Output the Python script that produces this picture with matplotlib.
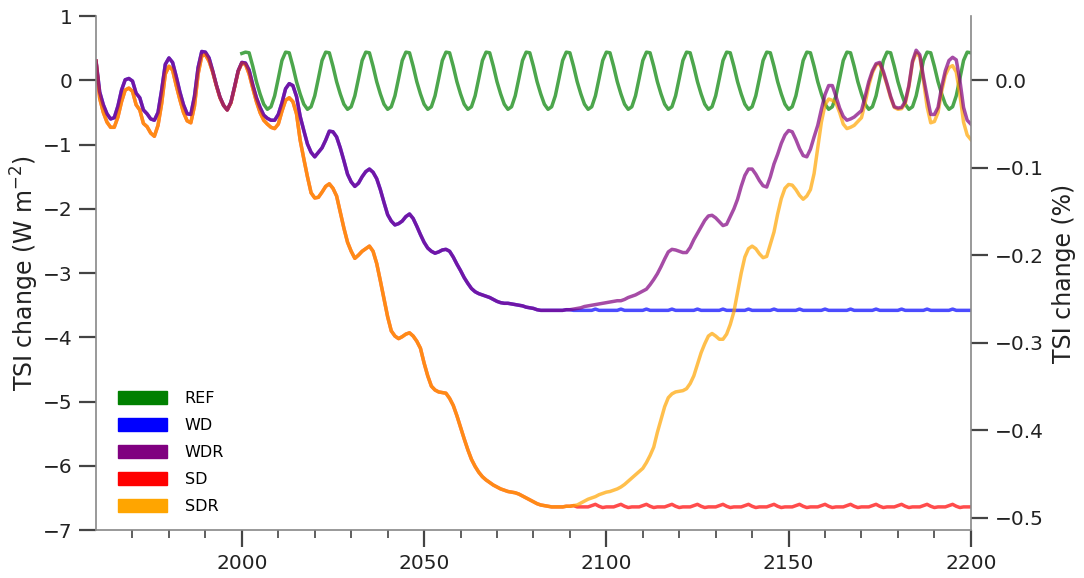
import numpy as np
import matplotlib
matplotlib.use("Agg")
import matplotlib.pyplot as plt
import matplotlib.patches as mpatches

# yearly values, 1960-2200 (W m-2)
years = np.arange(1960, 2201)
ref_years = np.arange(2000, 2201)

# REF, 2000-2200
ref = [0.42,
       0.44, 0.43, 0.22, -0.02, -0.21, -0.37, -0.45, -0.41, -0.24, 0.03, 0.31,
       0.44, 0.43, 0.22, -0.02, -0.21, -0.37, -0.45, -0.41, -0.24, 0.03, 0.31,
       0.44, 0.43, 0.22, -0.02, -0.21, -0.37, -0.45, -0.41, -0.24, 0.03, 0.31,
       0.44, 0.43, 0.22, -0.02, -0.21, -0.37, -0.45, -0.41, -0.24, 0.03, 0.31,
       0.44, 0.43, 0.22, -0.02, -0.21, -0.37, -0.45, -0.41, -0.24, 0.03, 0.31,
       0.44, 0.43, 0.22, -0.02, -0.21, -0.37, -0.45, -0.41, -0.24, 0.03, 0.31,
       0.44, 0.43, 0.22, -0.02, -0.21, -0.37, -0.45, -0.41, -0.24, 0.03, 0.31,
       0.44, 0.43, 0.22, -0.02, -0.21, -0.37, -0.45, -0.41, -0.24, 0.03, 0.31,
       0.44, 0.43, 0.22, -0.02, -0.21, -0.37, -0.45, -0.41, -0.24, 0.03, 0.31,
       0.44, 0.43, 0.22, -0.02, -0.21, -0.37, -0.45, -0.41, -0.24, 0.03, 0.31,
       0.44, 0.43, 0.22, -0.02, -0.21, -0.37, -0.45, -0.41, -0.24, 0.03, 0.31,
       0.44, 0.43, 0.22, -0.02, -0.21, -0.37, -0.45, -0.41, -0.24, 0.03, 0.31,
       0.44, 0.43, 0.22, -0.02, -0.21, -0.37, -0.45, -0.41, -0.24, 0.03, 0.31,
       0.44, 0.43, 0.22, -0.02, -0.21, -0.37, -0.45, -0.41, -0.24, 0.03, 0.31,
       0.44, 0.43, 0.22, -0.02, -0.21, -0.37, -0.45, -0.41, -0.24, 0.03, 0.31,
       0.44, 0.43, 0.22, -0.02, -0.21, -0.37, -0.45, -0.41, -0.24, 0.03, 0.31,
       0.44, 0.43, 0.22, -0.02, -0.21, -0.37, -0.45, -0.41, -0.24, 0.03, 0.31,
       0.44, 0.43, 0.22, -0.02, -0.21, -0.37, -0.45, -0.41, -0.24, 0.03, 0.31,
       0.44, 0.43]

# WDR, 1960-2200
wdr = [0.30, -0.18, -0.38, -0.52, -0.60, -0.58, -0.40, -0.15, 0.01, 0.03,      # 1960
       -0.01, -0.20, -0.27, -0.46, -0.52, -0.60, -0.62, -0.50, -0.15, 0.25,    # 1970
       0.35, 0.28, 0.06, -0.18, -0.38, -0.52, -0.53, -0.25, 0.20, 0.45,        # 1980
       0.44, 0.35, 0.15, -0.07, -0.26, -0.39, -0.46, -0.34, -0.10, 0.15,       # 1990
       0.28, 0.27, 0.16, -0.07, -0.27, -0.42, -0.54, -0.59, -0.62, -0.62,     # 2000
       -0.53, -0.35, -0.13, -0.05, -0.08, -0.25, -0.56, -0.78, -0.99, -1.12,  # 2010
       -1.19, -1.12, -1.05, -0.93, -0.79, -0.80, -0.88, -1.05, -1.25, -1.46,  # 2020
       -1.58, -1.65, -1.60, -1.50, -1.42, -1.38, -1.43, -1.53, -1.70, -1.90,  # 2030
       -2.09, -2.19, -2.25, -2.23, -2.19, -2.12, -2.08, -2.15, -2.27, -2.40,  # 2040
       -2.52, -2.61, -2.66, -2.69, -2.67, -2.64, -2.63, -2.66, -2.75, -2.86,  # 2050
       -2.96, -3.07, -3.16, -3.24, -3.29, -3.32, -3.34, -3.36, -3.38, -3.41,  # 2060
       -3.44, -3.46, -3.47, -3.47, -3.48, -3.49, -3.50, -3.51, -3.53, -3.54,  # 2070
       -3.55, -3.57, -3.58, -3.58, -3.58, -3.58, -3.58, -3.58, -3.58, -3.57,  # 2080
       -3.57, -3.56, -3.55, -3.54, -3.52, -3.51, -3.50, -3.49, -3.48, -3.47,  # 2090
       -3.46, -3.45, -3.44, -3.43, -3.43, -3.41, -3.38, -3.36, -3.34, -3.31,  # 2100
       -3.28, -3.25, -3.18, -3.10, -3.01, -2.90, -2.78, -2.67, -2.63, -2.64,  # 2110
       -2.66, -2.68, -2.68, -2.60, -2.48, -2.38, -2.28, -2.18, -2.11, -2.10,  # 2120
       -2.14, -2.20, -2.26, -2.24, -2.12, -2.00, -1.85, -1.65, -1.48, -1.38,  # 2130
       -1.38, -1.46, -1.56, -1.64, -1.66, -1.50, -1.30, -1.15, -0.98, -0.85,  # 2140
       -0.78, -0.80, -0.92, -1.06, -1.17, -1.19, -1.07, -0.88, -0.70, -0.45,  # 2150
       -0.22, -0.08, -0.08, -0.25, -0.43, -0.56, -0.62, -0.60, -0.57, -0.52,  # 2160
       -0.47, -0.25, -0.02, 0.15, 0.26, 0.28, 0.14, -0.05, -0.25, -0.41,      # 2170
       -0.43, -0.42, -0.33, -0.08, 0.30, 0.47, 0.40, 0.05, -0.25, -0.53,      # 2180
       -0.53, -0.42, -0.10, 0.15, 0.31, 0.36, 0.32, 0.00, -0.42, -0.62,       # 2190
       -0.68]                                                                  # 2200

# SDR, 1960-2200
sdr = [0.30, -0.28, -0.50, -0.65, -0.73, -0.73, -0.57, -0.33, -0.15, -0.12,   # 1960
       -0.17, -0.38, -0.46, -0.67, -0.72, -0.82, -0.87, -0.70, -0.36, 0.10,   # 1970
       0.22, 0.16, -0.08, -0.30, -0.50, -0.63, -0.66, -0.40, 0.10, 0.38,      # 1980
       0.40, 0.30, 0.13, -0.08, -0.27, -0.39, -0.46, -0.35, -0.11, 0.14,      # 1990
       0.27, 0.25, 0.10, -0.12, -0.33, -0.50, -0.62, -0.68, -0.73, -0.75,     # 2000
       -0.68, -0.48, -0.31, -0.27, -0.33, -0.52, -0.93, -1.22, -1.50, -1.75,  # 2010
       -1.83, -1.82, -1.74, -1.65, -1.61, -1.68, -1.80, -2.05, -2.30, -2.52,  # 2020
       -2.66, -2.77, -2.72, -2.66, -2.62, -2.58, -2.66, -2.85, -3.12, -3.40,  # 2030
       -3.68, -3.90, -3.98, -4.02, -3.99, -3.95, -3.93, -3.98, -4.06, -4.17,  # 2040
       -4.40, -4.60, -4.76, -4.82, -4.85, -4.86, -4.87, -4.95, -5.06, -5.22,  # 2050
       -5.40, -5.58, -5.75, -5.90, -6.01, -6.10, -6.17, -6.22, -6.26, -6.30,  # 2060
       -6.33, -6.36, -6.38, -6.40, -6.41, -6.42, -6.44, -6.47, -6.50, -6.53,  # 2070
       -6.56, -6.59, -6.61, -6.62, -6.63, -6.64, -6.64, -6.64, -6.64, -6.63,  # 2080
       -6.63, -6.62, -6.61, -6.58, -6.55, -6.52, -6.50, -6.48, -6.45, -6.43,  # 2090
       -6.41, -6.40, -6.38, -6.36, -6.33, -6.29, -6.24, -6.19, -6.14, -6.09,  # 2100
       -6.04, -5.95, -5.84, -5.71, -5.48, -5.28, -5.08, -4.94, -4.88, -4.85,  # 2110
       -4.84, -4.83, -4.80, -4.72, -4.60, -4.42, -4.24, -4.10, -3.98, -3.94,  # 2120
       -3.98, -4.03, -4.03, -3.95, -3.80, -3.60, -3.30, -3.00, -2.75, -2.62,  # 2130
       -2.58, -2.62, -2.70, -2.76, -2.74, -2.55, -2.36, -2.08, -1.84, -1.68,  # 2140
       -1.62, -1.63, -1.70, -1.79, -1.85, -1.80, -1.70, -1.45, -1.05, -0.65,  # 2150
       -0.38, -0.29, -0.31, -0.35, -0.50, -0.68, -0.75, -0.73, -0.70, -0.64,  # 2160
       -0.58, -0.35, -0.08, 0.12, 0.24, 0.26, 0.11, -0.07, -0.27, -0.42,      # 2170
       -0.45, -0.44, -0.36, -0.10, 0.28, 0.43, 0.37, 0.00, -0.41, -0.66,      # 2180
       -0.64, -0.50, -0.17, 0.08, 0.20, 0.23, 0.13, -0.22, -0.65, -0.85,      # 2190
       -0.92]                                                                  # 2200

# WD after it leaves WDR, 2091-2200
wd_tail = [-3.58, -3.58, -3.58, -3.58, -3.58, -3.58, -3.56, -3.58, -3.58, -3.58,
           -3.58, -3.58, -3.58, -3.56, -3.58, -3.58, -3.58, -3.58, -3.58, -3.58,
           -3.56, -3.58, -3.58, -3.58, -3.58, -3.58, -3.58, -3.56, -3.58, -3.58,
           -3.58, -3.58, -3.58, -3.58, -3.56, -3.58, -3.58, -3.58, -3.58, -3.58,
           -3.58, -3.56, -3.58, -3.58, -3.58, -3.58, -3.58, -3.58, -3.56, -3.58,
           -3.58, -3.58, -3.58, -3.58, -3.58, -3.56, -3.58, -3.58, -3.58, -3.58,
           -3.58, -3.58, -3.56, -3.58, -3.58, -3.58, -3.58, -3.58, -3.58, -3.56,
           -3.58, -3.58, -3.58, -3.58, -3.58, -3.58, -3.56, -3.58, -3.58, -3.58,
           -3.58, -3.58, -3.58, -3.56, -3.58, -3.58, -3.58, -3.58, -3.58, -3.58,
           -3.56, -3.58, -3.58, -3.58, -3.58, -3.58, -3.58, -3.56, -3.58, -3.58,
           -3.58, -3.58, -3.58, -3.58, -3.56, -3.58, -3.58, -3.58, -3.58, -3.58]

# SD after it leaves SDR, 2092-2200
sd_tail = [-6.64, -6.64, -6.64, -6.64, -6.62, -6.60, -6.63, -6.65, -6.64,
           -6.64, -6.64, -6.62, -6.60, -6.63, -6.65, -6.64, -6.64, -6.64, -6.62,
           -6.60, -6.63, -6.65, -6.64, -6.64, -6.64, -6.62, -6.60, -6.63, -6.65,
           -6.64, -6.64, -6.64, -6.62, -6.60, -6.63, -6.65, -6.64, -6.64, -6.64,
           -6.62, -6.60, -6.63, -6.65, -6.64, -6.64, -6.64, -6.62, -6.60, -6.63,
           -6.65, -6.64, -6.64, -6.64, -6.62, -6.60, -6.63, -6.65, -6.64, -6.64,
           -6.64, -6.62, -6.60, -6.63, -6.65, -6.64, -6.64, -6.64, -6.62, -6.60,
           -6.63, -6.65, -6.64, -6.64, -6.64, -6.62, -6.60, -6.63, -6.65, -6.64,
           -6.64, -6.64, -6.62, -6.60, -6.63, -6.65, -6.64, -6.64, -6.64, -6.62,
           -6.60, -6.63, -6.65, -6.64, -6.64, -6.64, -6.62, -6.60, -6.63, -6.65,
           -6.64, -6.64, -6.64, -6.62, -6.60, -6.63, -6.65, -6.64, -6.64, -6.64]

wd = wdr[:131] + wd_tail
sd = sdr[:132] + sd_tail

names = ["REF", "WD", "WDR", "SD", "SDR"]
colors = ["green", "blue", "purple", "red", "orange"]

tsi = 1362.0  # W m-2, for the % axis

fig = plt.figure(figsize=(10.84, 5.78), dpi=100)
ax = fig.add_axes([0.0886, 0.083, 0.807, 0.889])

lw = 2.5
a = 0.7
ax.plot(ref_years, ref, color="green", lw=lw, alpha=a)
ax.plot(years, wd, color="blue", lw=lw, alpha=a)
ax.plot(years, sd, color="red", lw=lw, alpha=a)
ax.plot(years, sdr, color="orange", lw=lw, alpha=a)
ax.plot(years, wdr, color="purple", lw=lw, alpha=a)

ax.set_xlim(1960, 2200)
ax.set_ylim(-7, 1)
ax.set_xticks([2000, 2050, 2100, 2150, 2200])
ax.set_xticks(np.arange(1970, 2200, 10), minor=True)
ax.set_yticks(np.arange(-7, 2, 1))

spine_c = "#888888"
for s in ["left", "bottom"]:
    ax.spines[s].set_color(spine_c)
    ax.spines[s].set_linewidth(1.2)
ax.spines["top"].set_visible(False)
ax.spines["right"].set_visible(False)
ax.tick_params(which="major", length=12, width=1.6, color="#444444",
               labelsize=14.5, labelcolor="#222222", pad=5)
ax.tick_params(which="minor", length=6, width=1.2, color="#444444")
ax.set_ylabel("TSI change (W m$^{-2}$)", fontsize=17, color="#222222", labelpad=1)

ax2 = ax.twinx()
ax2.set_ylim(-7 / tsi * 100, 1 / tsi * 100)
ax2.set_yticks([0.0, -0.1, -0.2, -0.3, -0.4, -0.5])
ax2.set_yticklabels(["0.0", "\u22120.1", "\u22120.2", "\u22120.3", "\u22120.4", "\u22120.5"])
for s in ["top", "left", "bottom"]:
    ax2.spines[s].set_visible(False)
ax2.spines["right"].set_color(spine_c)
ax2.spines["right"].set_linewidth(1.2)
ax2.tick_params(length=12, width=1.6, color="#444444",
                labelsize=14.5, labelcolor="#222222", pad=5)
ax2.set_ylabel("TSI change (%)", fontsize=17, color="#222222", labelpad=6)

handles = [mpatches.Patch(color=c, label=n) for n, c in zip(names, colors)]
ax.legend(handles=handles, loc="lower left", bbox_to_anchor=(0.012, 0.01),
          frameon=False, fontsize=11.5, handlelength=3.1, handleheight=0.9,
          labelspacing=0.74, handletextpad=1.1, borderpad=0.2)

fig.savefig("out.png", dpi=100, facecolor="white")
